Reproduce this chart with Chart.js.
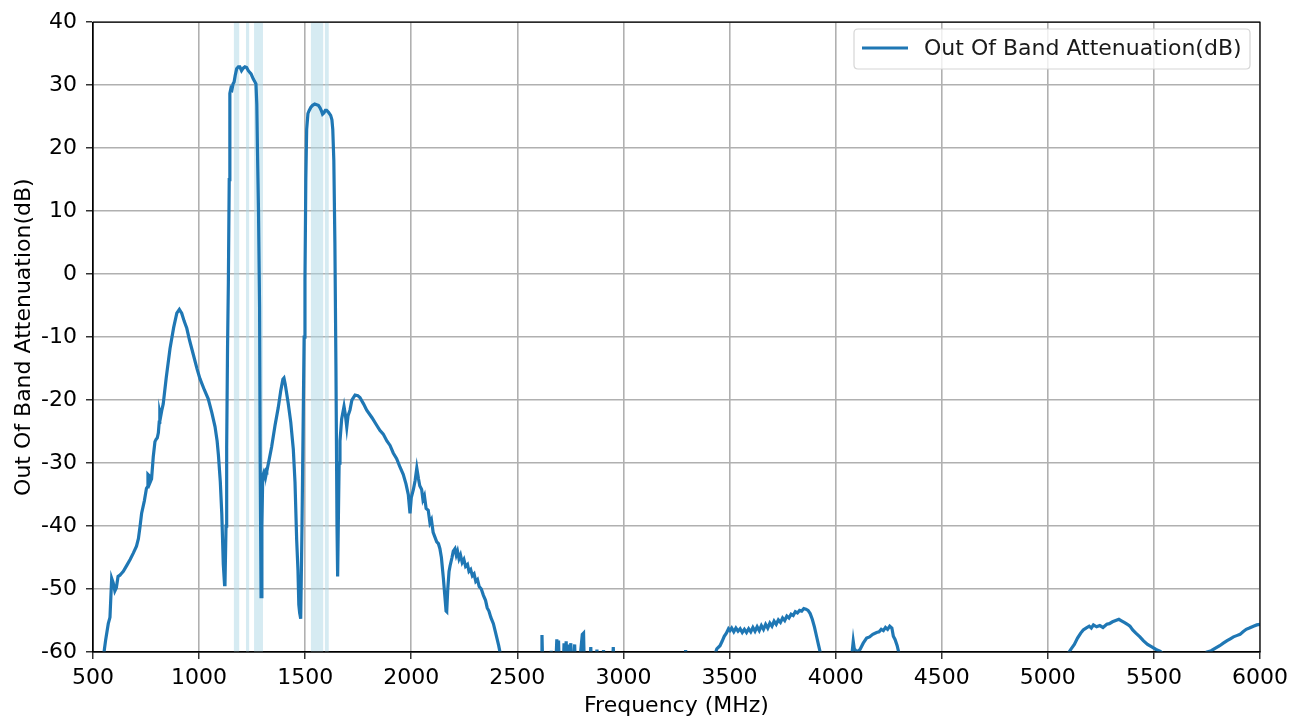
<!DOCTYPE html>
<html>
<head>
<meta charset="utf-8">
<title>Out Of Band Attenuation</title>
<script src="https://cdn.jsdelivr.net/npm/chart.js@4.4.0/dist/chart.umd.min.js"></script>
<style>
    html, body { margin: 0; padding: 0; background: #ffffff; }
    #wrap { width: 1302px; height: 722px; }
</style>
</head>
<body>
<div id="wrap"><canvas id="attChart" width="1302" height="722"></canvas></div>
<script>
// frequency (MHz) and attenuation (dB); values under -60 are off-axis noise floor
const freqs = [
    548, 560, 572, 580, 588, 595, 603, 610, 618, 627, 635, 643, 660, 675, 690, 705, 714, 722, 729, 742,
    752, 756, 759, 765, 770, 776, 784, 792, 798, 803, 808, 812, 815, 819, 825, 831, 845, 863, 880, 895,
    907, 918, 930, 942, 955, 973, 990, 1004, 1025, 1043, 1060, 1075, 1085, 1091, 1100, 1107, 1114, 1120, 1122, 1127,
    1130, 1134, 1138, 1142, 1145, 1150, 1155, 1160, 1165, 1170, 1177, 1185, 1192, 1200, 1208, 1216, 1224, 1232, 1245, 1255,
    1262, 1268, 1272, 1275, 1280, 1285, 1288, 1292, 1296, 1300, 1305, 1311, 1316, 1319, 1330, 1342, 1358, 1373, 1385, 1395,
    1400, 1406, 1420, 1432, 1444, 1452, 1460, 1466, 1470, 1474, 1479, 1485, 1490, 1495, 1499, 1503, 1507, 1513, 1519, 1527,
    1535, 1545, 1554, 1562, 1570, 1578, 1582, 1588, 1595, 1601, 1610, 1620, 1626, 1630, 1635, 1640, 1645, 1650, 1653, 1656,
    1660, 1664, 1672, 1683, 1690, 1696, 1702, 1711, 1720, 1735, 1748, 1758, 1775, 1790, 1815, 1837, 1852, 1868, 1885, 1900,
    1915, 1931, 1945, 1962, 1975, 1986, 1994, 2000, 2010, 2018, 2026, 2034, 2040, 2049, 2055, 2062, 2070, 2080, 2088, 2095,
    2103, 2112, 2120, 2128, 2135, 2142, 2151, 2158, 2164, 2167, 2172, 2178, 2183, 2192, 2198, 2206, 2212, 2218, 2225, 2232,
    2240, 2248, 2256, 2265, 2272, 2280, 2288, 2296, 2304, 2312, 2320, 2330, 2340, 2350, 2358, 2366, 2375, 2387, 2395, 2405,
    2412, 2418, 2425, 2450, 2500, 2560, 2612, 2616, 2620, 2655, 2660, 2664, 2680, 2686, 2690, 2694, 2698, 2716, 2720, 2724,
    2730, 2734, 2740, 2745, 2752, 2756, 2764, 2770, 2774, 2790, 2806, 2812, 2816, 2840, 2846, 2850, 2870, 2875, 2880, 2900,
    2906, 2912, 2948, 2952, 2956, 3000, 3100, 3200, 3290, 3293, 3296, 3380, 3420, 3430, 3440, 3455, 3465, 3475, 3485, 3495,
    3502, 3510, 3520, 3530, 3540, 3550, 3560, 3570, 3580, 3590, 3600, 3610, 3620, 3630, 3640, 3650, 3660, 3670, 3680, 3690,
    3700, 3710, 3720, 3730, 3740, 3750, 3760, 3770, 3780, 3790, 3800, 3810, 3820, 3830, 3840, 3850, 3860, 3870, 3880, 3890,
    3900, 3910, 3920, 3927, 3935, 3980, 4060, 4078, 4083, 4088, 4100, 4115, 4130, 4146, 4160, 4175, 4193, 4205, 4215, 4225,
    4235, 4245, 4255, 4265, 4272, 4280, 4290, 4297, 4305, 4500, 4800, 5000, 5090, 5100, 5110, 5125, 5140, 5155, 5167, 5180,
    5195, 5205, 5215, 5230, 5245, 5260, 5278, 5290, 5305, 5320, 5335, 5345, 5360, 5375, 5387, 5400, 5415, 5434, 5450, 5470,
    5490, 5510, 5530, 5550, 5570, 5650, 5740, 5750, 5770, 5790, 5810, 5827, 5845, 5860, 5875, 5890, 5906, 5920, 5935, 5950,
    5969, 5985, 6000
];
const atten = [
    -61, -58, -55.5, -54.5, -48.3, -49, -50.3, -49.8, -48, -47.8, -47.5, -47.2, -46.2, -45.3, -44.3, -43.2, -42, -40, -38, -36,
    -34, -33.8, -31.8, -32, -33, -32.5, -29, -26.6, -26.2, -26, -25.2, -23.5, -22, -22.6, -21.5, -20.6, -16.5, -11.8, -8.5, -6.2,
    -5.6, -6.2, -7.5, -8.6, -10.5, -12.8, -15, -16.6, -18.4, -19.8, -22, -24.2, -26.5, -28.7, -33, -38.1, -46, -49.3, -49.2, -40,
    -27.6, -12, -1.3, 15, 28.7, 29.5, 29.3, 30.2, 30.5, 31.5, 32.6, 32.9, 32.9, 32.3, 32.7, 32.9, 32.8, 32.3, 31.8, 31,
    30.6, 30.2, 27, 20, 10, -5, -30, -51.2, -40, -32, -31.5, -32.2, -31.2, -31.3, -29.5, -27.4, -24, -21.2, -18.5, -16.7,
    -16.5, -17.5, -20.5, -23.5, -27.8, -33, -42.3, -47, -52.5, -53.8, -54.7, -40, -25, -10, -1, 15, 23, 25.5, 26, 26.5,
    26.8, 27, 26.9, 26.8, 26.4, 25.8, 25.4, 25.6, 26, 26, 25.7, 25.2, 24.5, 23, 18, 5, -15, -40, -48, -40,
    -30, -26.5, -23, -21, -22.5, -24.3, -22.5, -21.6, -20, -19.2, -19.3, -19.6, -20.6, -21.6, -22.8, -24, -24.8, -25.4, -26.5, -27.2,
    -28.4, -29.3, -30.5, -31.8, -33.3, -35, -38, -35.5, -34.2, -32.8, -30.8, -32.5, -33.6, -34.2, -35.8, -35.2, -37.2, -37.5, -39.5, -39,
    -41, -41.8, -42.5, -42.8, -43.6, -45, -48.2, -51, -53.5, -53.6, -50, -47.2, -46.3, -45, -44, -43.6, -44.6, -44, -45.2, -44.6,
    -45.8, -45.3, -46.4, -46.1, -47.2, -46.9, -47.9, -47.6, -48.8, -48.5, -49.6, -50, -51, -51.8, -53, -53.5, -54.5, -55.5, -56.6, -58,
    -59, -60, -63, -64, -63, -64, -63, -57.3, -63, -64, -59.8, -64, -63, -58, -63, -58.2, -63, -63, -58.6, -63,
    -58.3, -63, -58.8, -63, -58.6, -63, -63, -58.8, -63, -63, -57.2, -57, -63, -63, -59.2, -63, -63, -59.6, -63, -63,
    -59.7, -63, -63, -59.2, -63, -64, -64, -64, -63, -59.7, -63, -64, -62, -60.5, -59.5, -59, -58.3, -57.5, -57, -56.3,
    -56.6, -56.2, -56.8, -56.2, -56.7, -56.3, -56.9, -56.4, -56.9, -56.3, -56.8, -56.1, -56.7, -56, -56.6, -55.8, -56.4, -55.6, -56.2, -55.4,
    -55.9, -55.1, -55.6, -54.9, -55.3, -54.6, -55, -54.3, -54.6, -54, -54.2, -53.6, -53.8, -53.4, -53.5, -53.1, -53.2, -53.4, -53.9, -54.8,
    -56, -57.5, -59, -60, -63, -64, -63, -60, -58.3, -59.5, -60, -59.6, -58.6, -57.8, -57.6, -57.2, -56.9, -56.8, -56.4, -56.6,
    -56.1, -56.4, -55.9, -56.2, -57.5, -58, -59, -60, -63, -64, -64, -64, -62, -60, -59.5, -58.8, -57.8, -57, -56.5, -56.2,
    -55.9, -56.2, -55.7, -56, -55.8, -56.1, -55.6, -55.5, -55.2, -55, -54.8, -55, -55.3, -55.6, -55.9, -56.5, -57, -57.6, -58.2, -58.8,
    -59.2, -59.6, -59.9, -60.5, -63, -64, -62, -60, -59.8, -59.4, -59, -58.6, -58.2, -57.9, -57.6, -57.4, -57.2, -56.8, -56.4, -56.2,
    -55.9, -55.7, -55.6
];

// shaded pass bands (MHz)
const bandStarts = [1164, 1221, 1259, 1527, 1593];
const bandEnds   = [1189, 1236, 1301, 1585, 1611];

const seriesLabel = 'Out Of Band Attenuation(dB)';
const lineColor = '#1f77b4';
const fontSize = 22;

Chart.defaults.font.family = '"DejaVu Sans", sans-serif';
Chart.defaults.color = '#000000';

const points = freqs.map((f, i) => ({ x: f, y: atten[i] }));

const bandsPlugin = {
    id: 'bands',
    beforeDatasetsDraw(chart) {
        const { ctx, chartArea, scales } = chart;
        ctx.save();
        ctx.fillStyle = 'rgba(173, 216, 230, 0.5)';
        for (let i = 0; i < bandStarts.length; i++) {
            const x0 = scales.x.getPixelForValue(bandStarts[i]);
            const x1 = scales.x.getPixelForValue(bandEnds[i]);
            ctx.fillRect(x0, chartArea.top, x1 - x0, chartArea.bottom - chartArea.top);
        }
        ctx.restore();
    }
};

const frameLegendPlugin = {
    id: 'frameLegend',
    afterDraw(chart) {
        const { ctx, chartArea } = chart;
        ctx.save();
        // full box like matplotlib spines
        ctx.strokeStyle = '#000000';
        ctx.lineWidth = 1.2;
        ctx.strokeRect(chartArea.left, chartArea.top, chartArea.right - chartArea.left, chartArea.bottom - chartArea.top);

        // legend box, top right
        const bx = 854, by = 29, bw = 396, bh = 40, r = 4;
        ctx.beginPath();
        ctx.moveTo(bx + r, by);
        ctx.lineTo(bx + bw - r, by);
        ctx.quadraticCurveTo(bx + bw, by, bx + bw, by + r);
        ctx.lineTo(bx + bw, by + bh - r);
        ctx.quadraticCurveTo(bx + bw, by + bh, bx + bw - r, by + bh);
        ctx.lineTo(bx + r, by + bh);
        ctx.quadraticCurveTo(bx, by + bh, bx, by + bh - r);
        ctx.lineTo(bx, by + r);
        ctx.quadraticCurveTo(bx, by, bx + r, by);
        ctx.closePath();
        ctx.fillStyle = 'rgba(255, 255, 255, 0.8)';
        ctx.fill();
        ctx.strokeStyle = '#d6d6d6';
        ctx.lineWidth = 1.2;
        ctx.stroke();

        ctx.strokeStyle = lineColor;
        ctx.lineWidth = 3.2;
        ctx.beginPath();
        ctx.moveTo(862, 48);
        ctx.lineTo(908, 48);
        ctx.stroke();

        ctx.fillStyle = '#1a1a1a';
        ctx.font = fontSize + 'px "DejaVu Sans"';
        ctx.textBaseline = 'middle';
        ctx.textAlign = 'left';
        ctx.fillText(seriesLabel, 924, 49);
        ctx.restore();
    }
};

const ctx = document.getElementById('attChart').getContext('2d');
const attChart = new Chart(ctx, {
    type: 'line',
    data: {
        datasets: [{
            label: seriesLabel,
            data: points,
            borderColor: lineColor,
            backgroundColor: lineColor,
            borderWidth: 3.2,
            pointRadius: 0,
            tension: 0,
            fill: false,
            clip: 0
        }]
    },
    options: {
        responsive: false,
        animation: false,
        layout: { padding: { top: 18, right: 42, left: 0, bottom: 0 } },
        plugins: {
            legend: { display: false },
            tooltip: { enabled: false }
        },
        scales: {
            x: {
                type: 'linear',
                min: 500,
                max: 6000,
                afterFit: (scale) => { scale.height = 70; },
                ticks: {
                    stepSize: 500,
                    padding: 6,
                    maxRotation: 0,
                    color: '#000000',
                    font: { size: fontSize },
                    callback: (v) => String(v)
                },
                grid: { color: '#b0b0b0', lineWidth: 1.6, tickLength: 7, tickColor: '#000000', tickWidth: 1.2 },
                border: { color: '#000000', width: 1.2 },
                title: {
                    display: true,
                    text: 'Frequency (MHz)',
                    color: '#000000',
                    font: { size: fontSize },
                    padding: { top: 0, bottom: 3 }
                }
            },
            y: {
                min: -60,
                max: 40,
                afterFit: (scale) => { scale.width = 93; },
                ticks: {
                    stepSize: 10,
                    padding: 9,
                    color: '#000000',
                    font: { size: fontSize },
                    callback: (v) => String(v)
                },
                grid: { color: '#b0b0b0', lineWidth: 1.6, tickLength: 7, tickColor: '#000000', tickWidth: 1.2 },
                border: { color: '#000000', width: 1.2 },
                title: {
                    display: true,
                    text: 'Out Of Band Attenuation(dB)',
                    color: '#000000',
                    font: { size: fontSize },
                    padding: { top: 11, bottom: 0 }
                }
            }
        }
    },
    plugins: [bandsPlugin, frameLegendPlugin]
});
</script>
</body>
</html>
